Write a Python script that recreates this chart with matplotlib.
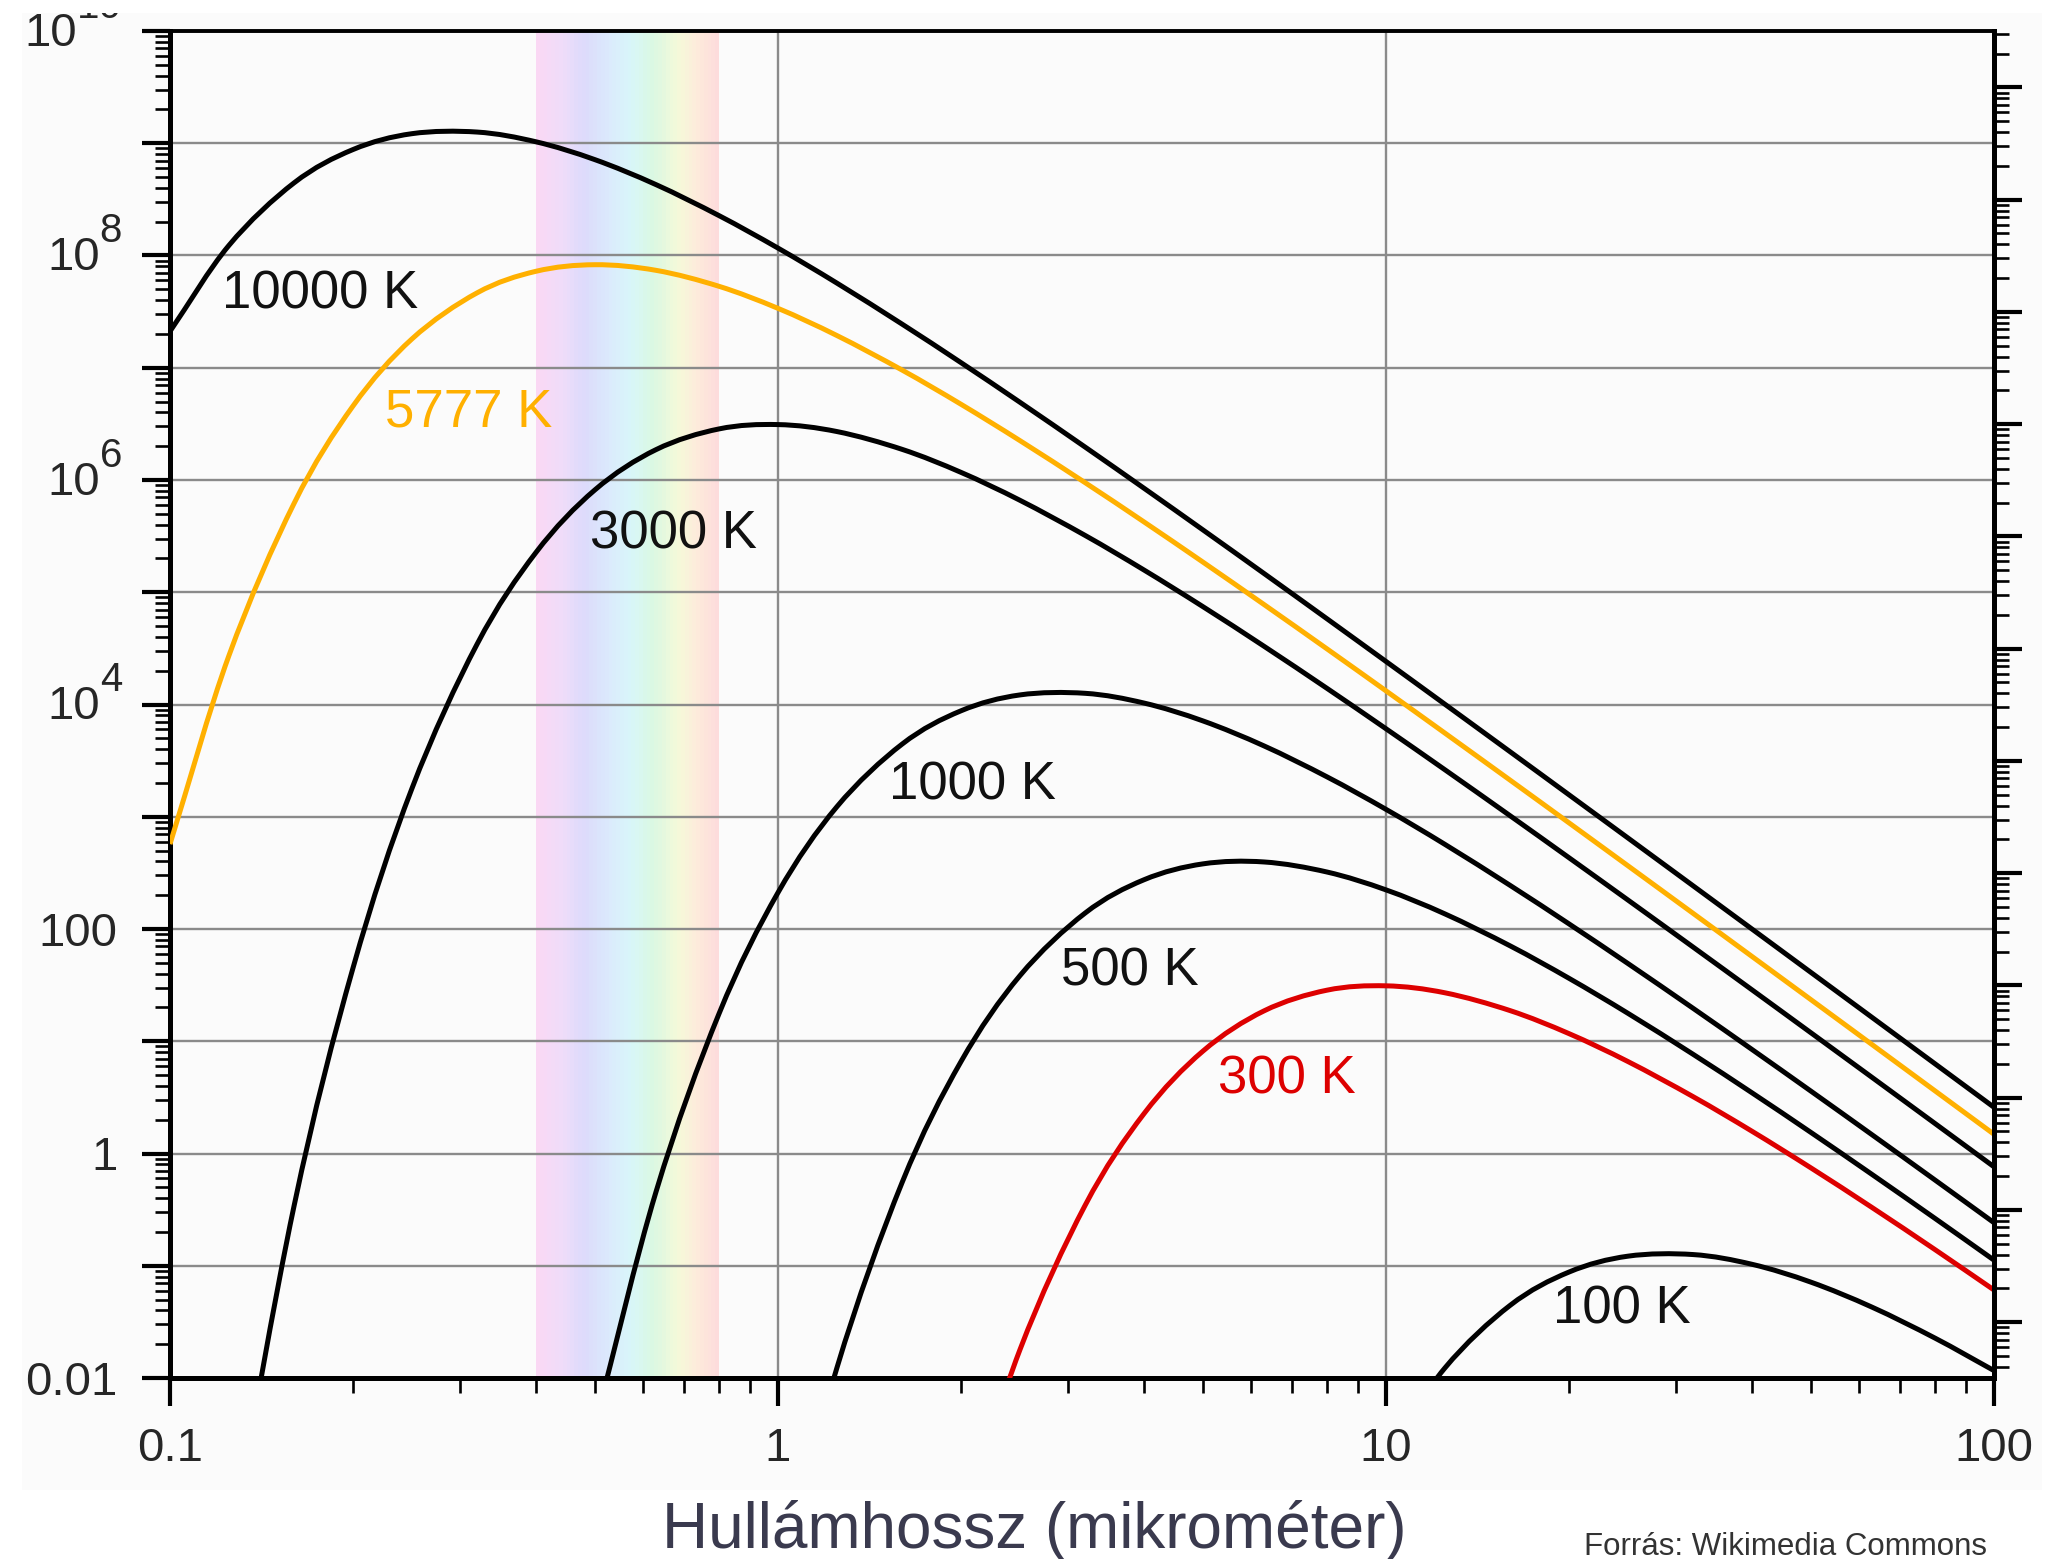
import numpy as np
import matplotlib
matplotlib.use("Agg")
import matplotlib.pyplot as plt
from matplotlib.patches import Rectangle, PathPatch
from matplotlib.path import Path
from matplotlib.colors import LinearSegmentedColormap
from matplotlib.ticker import LogLocator, FuncFormatter, NullFormatter

plt.rcParams['font.family'] = ['Liberation Sans', 'DejaVu Sans']

nan = float('nan')

# ---- data (spectral exitance, W / m^2 / um) ----
wavelength_um = [0.1, 0.125, 0.16, 0.2, 0.25, 0.32, 0.4, 0.5, 0.63, 0.8,
                 1, 1.25, 1.6, 2, 2.5, 3.2, 4, 5, 6.3, 8,
                 10, 12.5, 16, 20, 25, 32, 40, 50, 63, 80, 100]

exitance_10000K = [2.11e7, 1.23e8, 4.44e8, 8.79e8, 1.217e9, 1.258e9, 1.030e9, 7.14e8, 4.28e8, 2.265e8,
                   1.164e8, 5.674e7, 2.447e7, 1.110e7, 4.925e6, 1.965e6, 8.44e5, 3.591e5, 1.470e5, 5.797e4,
                   2.418e4, 1.005e4, 3793, 1568, 647, 242.5, 99.8, 41.0, 16.32, 6.29, 2.58]
exitance_5777K = [571, 2.725e4, 6.199e5, 4.567e6, 1.806e7, 4.650e7, 7.236e7, 8.278e7, 7.377e7, 5.313e7,
                  3.381e7, 1.936e7, 9.535e6, 4.727e6, 2.243e6, 9.469e5, 4.230e5, 1.855e5, 7.776e4, 3.126e4,
                  1.323e4, 5560, 2119, 881.9, 365.8, 137.8, 56.88, 23.45, 9.351, 3.611, 1.484]
exitance_3000K = [nan, 2.66e-4, 0.3424, 45.04, 1786, 3.454e4, 2.267e5, 8.175e5, 1.864e6, 2.852e6,
                  3.117e6, 2.702e6, 1.875e6, 1.169e6, 6.595e5, 3.208e5, 1.577e5, 7.438e4, 3.304e4, 1.391e4,
                  6081, 2622, 1021, 431.4, 181.2, 68.97, 28.69, 11.89, 4.767, 1.848, 0.7615]
exitance_1000K = [nan, nan, nan, nan, nan, nan, nan, 3.81e-3, 0.455, 17.65,
                  211, 1229, 4437, 8789, 1.217e4, 1.258e4, 1.030e4, 7140, 4278, 2265,
                  1164, 567.4, 244.7, 111.0, 49.25, 19.65, 8.44, 3.591, 1.470, 0.5797, 0.2418]
exitance_500K = [nan, nan, nan, nan, nan, nan, nan, nan, nan, nan,
                 1.19e-4, 0.01232, 0.5516, 6.597, 38.42, 138.7, 274.7, 380.4, 395.6, 321.7,
                 223.1, 136.3, 70.79, 36.36, 17.73, 7.649, 3.470, 1.539, 0.6512, 0.2638, 0.1122]
exitance_300K = [nan, nan, nan, nan, nan, nan, nan, nan, nan, nan,
                 nan, nan, nan, 4.504e-4, 0.01786, 0.3454, 2.267, 8.175, 18.64, 28.52,
                 31.17, 27.02, 18.75, 11.69, 6.595, 3.208, 1.577, 0.7438, 0.3304, 0.1391, 0.06081]
exitance_100K = [nan, nan, nan, nan, nan, nan, nan, nan, nan, nan,
                 nan, nan, nan, nan, nan, nan, nan, nan, nan, nan,
                 2.11e-3, 0.01229, 0.04437, 0.08789, 0.1217, 0.1258, 0.1030, 0.0714, 0.04278, 0.02265, 0.01164]

curve_labels = ['10000 K', '5777 K', '3000 K', '1000 K', '500 K', '300 K', '100 K']
visible_band_um = [0.4, 0.8]
x_tick_labels = ['0.1', '1', '10', '100']
y_tick_plain = {-2: '0.01', 0: '1', 2: '100'}
y_tick_exponents = [4, 6, 8, 10]

# ---- styles / positions ----
series = [exitance_10000K, exitance_5777K, exitance_3000K, exitance_1000K,
          exitance_500K, exitance_300K, exitance_100K]
colors = ['#000000', '#ffb000', '#000000', '#000000', '#000000', '#dd0000', '#000000']
label_pos = [(0.1218, 3.4e7), (0.2258, 2.97e6), (0.491, 2.45e5), (1.523, 1425),
             (2.926, 31.7), (5.30, 3.41), (18.83, 0.0304)]
label_colors = ['#111111', '#ffb000', '#111111', '#111111', '#111111', '#dd0000', '#111111']
TICK_COLOR = '#262626'

W, H, DPI = 2050, 1559, 100
fig = plt.figure(figsize=(W / DPI, H / DPI), dpi=DPI, facecolor='white')
fig.add_artist(Rectangle((22 / W, 1 - 1490 / H), (2042 - 22) / W, (1490 - 13) / H,
                         transform=fig.transFigure, facecolor='#fbfbfb', edgecolor='none', zorder=-5))

ax = fig.add_axes([170 / W, 1 - 1378 / H, (1994 - 170) / W, (1378 - 31) / H])
ax.set_facecolor('none')
ax.set_xscale('log')
ax.set_yscale('log')
ax.set_xlim(0.1, 100)
ax.set_ylim(0.01, 1e10)

# visible spectrum band
spec_cmap = LinearSegmentedColormap.from_list('spec', [
    (0.00, '#fbd8f4'), (0.14, '#efdcf9'), (0.27, '#dcdbfb'), (0.40, '#dbeafc'),
    (0.52, '#d8f6f9'), (0.64, '#daf8e2'), (0.78, '#f5f9d9'), (0.88, '#fdebdb'), (1.00, '#fddbdc')])
nb = 48
lo, hi = np.log10(visible_band_um[0]), np.log10(visible_band_um[1])
for i in range(nb):
    a = 10 ** (lo + (hi - lo) * i / nb)
    b = 10 ** (lo + (hi - lo) * (i + 1) / nb)
    ax.axvspan(a, b, color=spec_cmap((i + 0.5) / nb), lw=0, zorder=1)

ax.grid(True, which='major', color='#8a8a8a', lw=1.7, zorder=1.5)
ax.grid(False, which='minor')


def smooth_log_path(xs, ys):
    """Smooth (Catmull-Rom -> cubic Bezier) rendering through the data points in log-log space."""
    xs = np.asarray(xs, float)
    ys = np.asarray(ys, float)
    ok = ~np.isnan(ys)
    P = np.column_stack([np.log10(xs[ok]), np.log10(ys[ok])])
    n = len(P)
    T = np.zeros_like(P)
    T[1:-1] = (P[2:] - P[:-2]) / 2
    T[0] = P[1] - P[0]
    T[-1] = P[-1] - P[-2]
    verts = [P[0]]
    codes = [Path.MOVETO]
    for i in range(n - 1):
        verts += [P[i] + T[i] / 3, P[i + 1] - T[i + 1] / 3, P[i + 1]]
        codes += [Path.CURVE4] * 3
    return Path(10 ** np.array(verts), codes)


for ys, c in zip(series, colors):
    ax.add_patch(PathPatch(smooth_log_path(wavelength_um, ys), facecolor='none',
                           edgecolor=c, lw=3.6, zorder=3, capstyle='butt', joinstyle='round'))

for (lx, ly), txt, c in zip(label_pos, curve_labels, label_colors):
    ax.text(lx, ly, txt, color=c, fontsize=38, ha='left', va='baseline', zorder=4)

# ticks
ax.xaxis.set_major_locator(LogLocator(base=10, numticks=20))
ax.xaxis.set_minor_locator(LogLocator(base=10, subs=np.arange(2, 10), numticks=20))
ax.yaxis.set_major_locator(LogLocator(base=10, numticks=30))
ax.yaxis.set_minor_locator(LogLocator(base=10, subs=np.arange(2, 10), numticks=30))


def xfmt(v, pos):
    e = int(round(np.log10(v)))
    return x_tick_labels[e + 1] if -1 <= e <= 2 else ''


def yfmt(v, pos):
    e = int(round(np.log10(v)))
    return y_tick_plain.get(e, '')


ax.xaxis.set_major_formatter(FuncFormatter(xfmt))
ax.yaxis.set_major_formatter(FuncFormatter(yfmt))
ax.xaxis.set_minor_formatter(NullFormatter())
ax.yaxis.set_minor_formatter(NullFormatter())

ax.tick_params(which='major', direction='out', length=20, width=3.0, color='black',
               labelsize=34, labelcolor=TICK_COLOR)
ax.tick_params(axis='y', which='major', pad=18)
ax.tick_params(axis='x', which='major', pad=15)
ax.tick_params(which='minor', direction='out', length=10.5, width=1.9, color='black')
ax.tick_params(right=False, top=False, which='both')

# power-of-ten labels with large superscripts
ytr = ax.get_yaxis_transform()
label_right_pt = -34.6
sup_size = 29
for e in y_tick_exponents:
    sup = str(e)
    sup_w = 0.556 * sup_size * len(sup)
    ax.annotate('10', xy=(0, 10.0 ** e), xycoords=ytr,
                xytext=(label_right_pt - sup_w, -10.8), textcoords='offset points',
                ha='right', va='baseline', fontsize=34, color=TICK_COLOR, annotation_clip=False)
    ax.annotate(sup, xy=(0, 10.0 ** e), xycoords=ytr,
                xytext=(label_right_pt, 9.4), textcoords='offset points',
                ha='right', va='baseline', fontsize=sup_size, color=TICK_COLOR, annotation_clip=False)

for s in ['left', 'bottom', 'right']:
    ax.spines[s].set_linewidth(3.6)
ax.spines['top'].set_linewidth(2.8)
for s in ax.spines.values():
    s.set_color('black')

# right axis (radiance = exitance / pi)
ax2 = ax.twinx()
ax2.set_yscale('log')
ax2.set_ylim(0.01 / np.pi, 1e10 / np.pi)
ax2.yaxis.set_major_locator(LogLocator(base=10, numticks=30))
ax2.yaxis.set_minor_locator(LogLocator(base=10, subs=np.arange(2, 10), numticks=30))
ax2.yaxis.set_major_formatter(NullFormatter())
ax2.yaxis.set_minor_formatter(NullFormatter())
ax2.tick_params(which='major', direction='out', length=20, width=3.0, color='black')
ax2.tick_params(which='minor', direction='out', length=11, width=1.9, color='black')
for s in ['left', 'top', 'bottom']:
    ax2.spines[s].set_visible(False)
ax2.spines['right'].set_linewidth(3.6)

fig.text(1034 / W, 1 - 1548 / H, 'Hullámhossz (mikrométer)', ha='center', va='baseline',
         fontsize=46, color='#3a3a4e')
fig.text(1584 / W, 1 - 1555 / H, 'Forrás: Wikimedia Commons', ha='left', va='baseline',
         fontsize=22.5, color='#333333')

fig.add_artist(Rectangle((0, 1 - 13 / H), 1, 13 / H, transform=fig.transFigure,
                         facecolor='white', edgecolor='none', zorder=20))

fig.savefig('out.png', dpi=DPI, facecolor='white')
